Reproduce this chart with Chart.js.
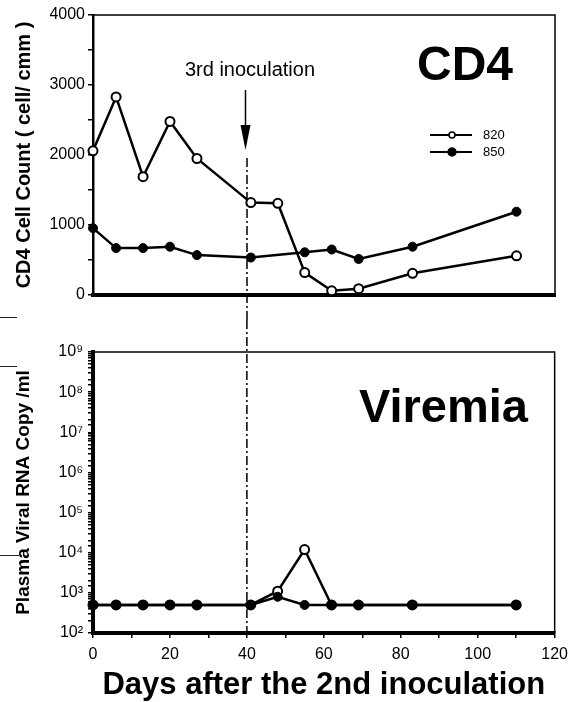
<!DOCTYPE html>
<html>
<head>
<meta charset="utf-8">
<script src="https://cdn.jsdelivr.net/npm/chart.js@4.4.0/dist/chart.umd.min.js"></script>
<style>
  html, body { margin: 0; padding: 0; background: #fff; }
  #wrap { position: relative; width: 575px; height: 702px; }
  #cd4Box { position: absolute; left: 0; top: 0; width: 575px; height: 320px; }
  #rnaBox { position: absolute; left: 0; top: 320px; width: 575px; height: 382px; }
</style>
</head>
<body>
<div id="wrap">
  <div id="cd4Box"><canvas id="cd4Chart"></canvas></div>
  <div id="rnaBox"><canvas id="rnaChart"></canvas></div>
</div>
<script>
// values
const days820 = [0, 6, 13, 20, 27, 41, 48, 55, 62, 69, 83, 110];
const cd4_820 = [2060, 2830, 1690, 2480, 1950, 1320, 1310, 320, 60, 90, 310, 560];
const days850 = [0, 6, 13, 20, 27, 41, 55, 62, 69, 83, 110];
const cd4_850 = [955, 670, 670, 690, 570, 535, 610, 650, 515, 690, 1190];

const rnaDays = [0, 6, 13, 20, 27, 41, 48, 55, 62, 69, 83, 110];
const rna_820 = [500, 500, 500, 500, 500, 500, 1100, 12000, 500, 500, 500, 500];
const rna_850 = [500, 500, 500, 500, 500, 500, 800, 500, 500, 500, 500, 500];

const seriesNames = ['820', '850'];
const inoculationDay = 40;
const superDigits = { 2: '²', 3: '³', 4: '⁴', 5: '⁵', 6: '⁶', 7: '⁷', 8: '⁸', 9: '⁹' };

Chart.defaults.font.family = '"Liberation Sans", Arial, Helvetica, sans-serif';
Chart.defaults.color = '#000';

function toPoints(xs, ys) {
    return xs.map((d, i) => ({ x: d, y: ys[i] }));
}

function openSeries(label, data) {
    return {
        label: label, data: data, borderColor: '#000', borderWidth: 2.5,
        pointRadius: 4.5, pointBackgroundColor: '#fff', pointBorderColor: '#000',
        pointBorderWidth: 2, tension: 0, clip: false
    };
}

function filledSeries(label, data) {
    return {
        label: label, data: data, borderColor: '#000', borderWidth: 2.5,
        pointRadius: 4.5, pointBackgroundColor: '#000', pointBorderColor: '#000',
        pointBorderWidth: 1, tension: 0, clip: false
    };
}

function dashDot(ctx, x, y0, y1) {
    ctx.save();
    ctx.strokeStyle = '#000';
    ctx.lineWidth = 1.5;
    ctx.setLineDash([9, 3, 2, 3]);
    ctx.beginPath();
    ctx.moveTo(x, y0);
    ctx.lineTo(x, y1);
    ctx.stroke();
    ctx.restore();
}

function boxTopRight(ctx, a) {
    ctx.save();
    ctx.strokeStyle = '#000';
    ctx.lineWidth = 1.5;
    ctx.beginPath();
    ctx.moveTo(a.left, a.top);
    ctx.lineTo(a.right, a.top);
    ctx.lineTo(a.right, a.bottom);
    ctx.stroke();
    ctx.restore();
}

// short stray rules at the left page edge (scan crop marks)
function edgeMark(ctx, y, len) {
    ctx.save();
    ctx.strokeStyle = '#222';
    ctx.lineWidth = 1;
    ctx.beginPath();
    ctx.moveTo(0, y);
    ctx.lineTo(len, y);
    ctx.stroke();
    ctx.restore();
}

// top panel extras: arrow, note, big label, legend
const cd4Decor = {
    id: 'cd4Decor',
    afterDraw(chart) {
        const ctx = chart.ctx;
        const a = chart.chartArea;
        const xl = chart.scales.x.getPixelForValue(inoculationDay);
        boxTopRight(ctx, a);
        dashDot(ctx, xl, 158, chart.height);
        edgeMark(ctx, 317.5, 17);

        ctx.save();
        ctx.fillStyle = '#000';
        ctx.strokeStyle = '#000';
        ctx.lineWidth = 1.5;
        ctx.beginPath();
        ctx.moveTo(xl - 1.5, 90);
        ctx.lineTo(xl - 1.5, 128);
        ctx.stroke();
        ctx.beginPath();
        ctx.moveTo(xl - 6.5, 125);
        ctx.lineTo(xl + 3.5, 125);
        ctx.lineTo(xl - 1.5, 150);
        ctx.closePath();
        ctx.fill();

        ctx.font = '20px "Liberation Sans", Arial, sans-serif';
        ctx.textAlign = 'center';
        ctx.textBaseline = 'middle';
        ctx.fillText('3rd inoculation', xl + 3, 70);

        ctx.font = 'bold 48px "Liberation Sans", Arial, sans-serif';
        ctx.textAlign = 'left';
        ctx.textBaseline = 'alphabetic';
        ctx.fillText('CD4', 417, 80);

        // legend
        const rows = [135, 152];
        ctx.font = '13px "Liberation Sans", Arial, sans-serif';
        ctx.textBaseline = 'middle';
        rows.forEach((y, i) => {
            ctx.lineWidth = 2;
            ctx.beginPath();
            ctx.moveTo(430, y);
            ctx.lineTo(472, y);
            ctx.stroke();
            ctx.beginPath();
            ctx.arc(452, y, i === 0 ? 3 : 4, 0, Math.PI * 2);
            ctx.fillStyle = i === 0 ? '#fff' : '#000';
            ctx.fill();
            ctx.lineWidth = 1.5;
            ctx.stroke();
            ctx.fillStyle = '#000';
            ctx.fillText(seriesNames[i], 483, y);
        });
        ctx.restore();
    }
};

const rnaDecor = {
    id: 'rnaDecor',
    afterDraw(chart) {
        const ctx = chart.ctx;
        const a = chart.chartArea;
        const xl = chart.scales.x.getPixelForValue(inoculationDay);
        boxTopRight(ctx, a);
        dashDot(ctx, xl, 0, a.bottom);
        edgeMark(ctx, 46.5, 17);
        edgeMark(ctx, 235.5, 19);

        ctx.save();
        ctx.fillStyle = '#000';
        ctx.font = 'bold 47px "Liberation Sans", Arial, sans-serif';
        ctx.textAlign = 'right';
        ctx.textBaseline = 'alphabetic';
        ctx.fillText('Viremia', 528, 102);
        ctx.restore();
    }
};

const cd4Chart = new Chart(document.getElementById('cd4Chart'), {
    type: 'line',
    data: {
        datasets: [
            openSeries(seriesNames[0], toPoints(days820, cd4_820)),
            filledSeries(seriesNames[1], toPoints(days850, cd4_850))
        ]
    },
    options: {
        responsive: true,
        maintainAspectRatio: false,
        animation: false,
        layout: { padding: { left: 0, top: 15, right: 20, bottom: 0 } },
        plugins: { legend: { display: false }, tooltip: { enabled: false } },
        scales: {
            x: {
                type: 'linear', min: 0, max: 120,
                ticks: { display: false },
                grid: { display: false, drawTicks: false },
                border: { width: 4, color: '#000' },
                afterFit: function (s) { s.height = 25; }
            },
            y: {
                min: 0, max: 4000,
                ticks: {
                    stepSize: 500, autoSkip: false, padding: 3,
                    font: { size: 16 },
                    callback: v => (v % 1000 === 0 ? String(v) : '')
                },
                grid: { drawOnChartArea: false, tickLength: 5, color: '#000', lineWidth: 1.5 },
                border: { width: 2.5, color: '#000' },
                title: {
                    display: true, text: 'CD4 Cell Count ( cell/ cmm )',
                    font: { size: 20, weight: 'bold' }, padding: { top: 12, bottom: 0 }
                },
                afterFit: function (s) { s.width = 93; }
            }
        }
    },
    plugins: [cd4Decor]
});

const rnaChart = new Chart(document.getElementById('rnaChart'), {
    type: 'line',
    data: {
        datasets: [
            filledSeries(seriesNames[1], toPoints(rnaDays, rna_850)),
            openSeries(seriesNames[0], toPoints(rnaDays, rna_820))
        ]
    },
    options: {
        responsive: true,
        maintainAspectRatio: false,
        animation: false,
        layout: { padding: { left: 0, top: 32, right: 20, bottom: 0 } },
        plugins: { legend: { display: false }, tooltip: { enabled: false } },
        scales: {
            x: {
                type: 'linear', min: 0, max: 120,
                ticks: {
                    stepSize: 10, autoSkip: false, padding: 7, maxRotation: 0,
                    font: { size: 16 },
                    callback: v => (v % 20 === 0 ? String(v) : '')
                },
                grid: { drawOnChartArea: false, tickLength: 5, color: '#000', lineWidth: 1.5 },
                border: { width: 4, color: '#000' },
                title: {
                    display: true, text: 'Days after the 2nd inoculation',
                    font: { size: 31, weight: 'bold', lineHeight: 1 }, padding: { top: 0, bottom: 1 }
                },
                afterFit: function (s) { s.height = 69; }
            },
            y: {
                type: 'logarithmic', min: 100, max: 1e9,
                ticks: {
                    autoSkip: false, padding: 5,
                    font: { size: 16 },
                    callback: function (v) {
                        const e = Math.round(Math.log10(v));
                        return Math.abs(Math.log10(v) - e) < 1e-6 ? '10' + superDigits[e] : '';
                    }
                },
                grid: { drawOnChartArea: false, tickLength: 5, color: '#000', lineWidth: 1.5 },
                border: { width: 4, color: '#000' },
                title: {
                    display: true, text: 'Plasma Viral RNA Copy /ml',
                    font: { size: 19, weight: 'bold' }, padding: { top: 12, bottom: 0 }
                },
                afterFit: function (s) { s.width = 93; }
            }
        }
    },
    plugins: [rnaDecor]
});
</script>
</body>
</html>
